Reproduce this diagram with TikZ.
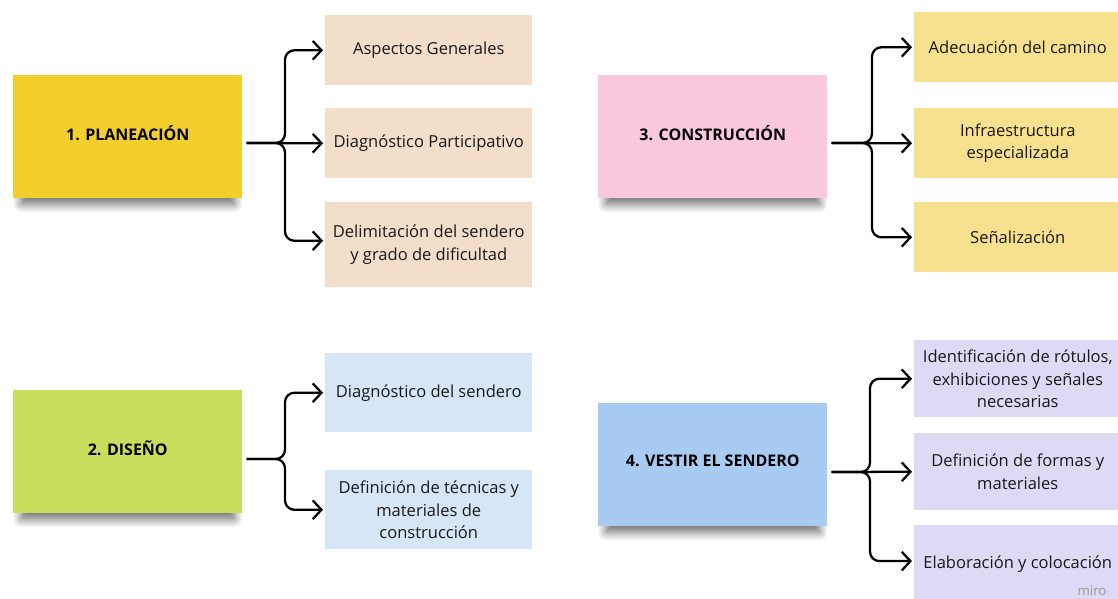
\documentclass[tikz,border=0pt]{standalone}
\usepackage{fontspec}
\setmainfont{Open Sans}
\usetikzlibrary{positioning,arrows.meta,shadows.blur}
\definecolor{planyellow}{RGB}{243,207,46}
\definecolor{planpeach}{RGB}{243,222,204}
\definecolor{disgreen}{RGB}{201,222,92}
\definecolor{disblue}{RGB}{214,230,246}
\definecolor{conspink}{RGB}{250,201,221}
\definecolor{conssand}{RGB}{248,225,142}
\definecolor{vestblue}{RGB}{168,203,242}
\definecolor{vestlilac}{RGB}{222,218,246}
\definecolor{inktext}{RGB}{25,25,25}

\begin{document}
\begin{tikzpicture}[x=0.75pt, y=-0.75pt,
        note/.style={anchor=north west, minimum width=171.75pt, minimum height=92.25pt, inner sep=0pt, text depth=6pt, font=\bfseries\fontsize{12}{14}\selectfont,
            blur shadow={shadow xshift=0pt, shadow yshift=-8pt, shadow scale=0.93, shadow opacity=60, shadow blur radius=7pt, shadow blur steps=12}},
        item/.style={anchor=north west, minimum width=155.25pt, inner sep=0pt, align=center, text=inktext, font=\fontsize{12.4}{17}\selectfont},
        arrow/.style={-{Straight Barb[length=6.5pt,width=14pt]}, line width=1.7pt, rounded corners=7pt, shorten <=3pt, shorten >=1.5pt}
    ]
        \clip (0,0) rectangle (1118,599);
        \useasboundingbox (0,0) rectangle (1118,599);

        % Nodes
        \node (plan) [note, fill=planyellow] at (13,75) {1. PLANEACIÓN};
        \node (asp1) [item, fill=planpeach, minimum height=52.5pt] at (325,15) {Aspectos Generales};
        \node (asp2) [item, fill=planpeach, minimum height=52.5pt] at (325,108) {Diagnóstico Participativo};
        \node (asp3) [item, fill=planpeach, minimum height=63.75pt] at (325,202) {Delimitación del sendero\\y grado de dificultad};

        \node (dis) [note, fill=disgreen] at (13,390) {2. DISEÑO};
        \node (dis1) [item, fill=disblue, minimum height=59.25pt] at (325,353) {Diagnóstico del sendero};
        \node (dis2) [item, fill=disblue, minimum height=59.25pt] at (325,470) {Definición de técnicas y\\materiales de\\construcción};

        \node (cons) [note, fill=conspink] at (598,75) {3. CONSTRUCCIÓN};
        \node (cons1) [item, fill=conssand, minimum height=52.5pt] at (914,12) {Adecuación del camino};
        \node (cons2) [item, fill=conssand, minimum height=52.5pt] at (914,108) {Infraestructura\\especializada};
        \node (cons3) [item, fill=conssand, minimum height=52.5pt] at (914,202) {Señalización};

        \node (vest) [note, fill=vestblue] at (598,403) {4. VESTIR EL SENDERO};
        \node (vest1) [item, fill=vestlilac, minimum height=57.75pt] at (914,340) {Identificación de rótulos,\\exhibiciones y señales\\necesarias};
        \node (vest2) [item, fill=vestlilac, minimum height=57.75pt] at (914,433) {Definición de formas y\\materiales};
        \node (vest3) [item, fill=vestlilac, minimum height=57.75pt] at (914,525) {Elaboración y colocación};

        \node (miro) [text=gray!80, font=\fontsize{10}{10}\selectfont] at (1092,591) {miro};

        % Braces
        \coordinate (b1) at (285,143);
        \coordinate (b2) at (285,459);
        \coordinate (b3) at (872,143);
        \coordinate (b4) at (870,472);

        % Arrows
        \draw [arrow] (plan.east |- b1) -- (asp2.west);
        \draw [arrow] (plan.east |- b1) -- (b1) |- (asp1.west);
        \draw [arrow] (plan.east |- b1) -- (b1) |- ([yshift=3pt]asp3.west);

        \draw [arrow] (dis.east |- b2) -- (b2) |- (dis1.west);
        \draw [arrow] (dis.east |- b2) -- (b2) |- (dis2.west);

        \draw [arrow] (cons.east |- b3) -- (cons2.west);
        \draw [arrow] (cons.east |- b3) -- (b3) |- (cons1.west);
        \draw [arrow] (cons.east |- b3) -- (b3) |- (cons3.west);

        \draw [arrow] (vest.east |- b4) -- (vest2.west);
        \draw [arrow] (vest.east |- b4) -- (b4) |- (vest1.west);
        \draw [arrow] (vest.east |- b4) -- (b4) |- ([yshift=2pt]vest3.west);
    \end{tikzpicture}
\end{document}
